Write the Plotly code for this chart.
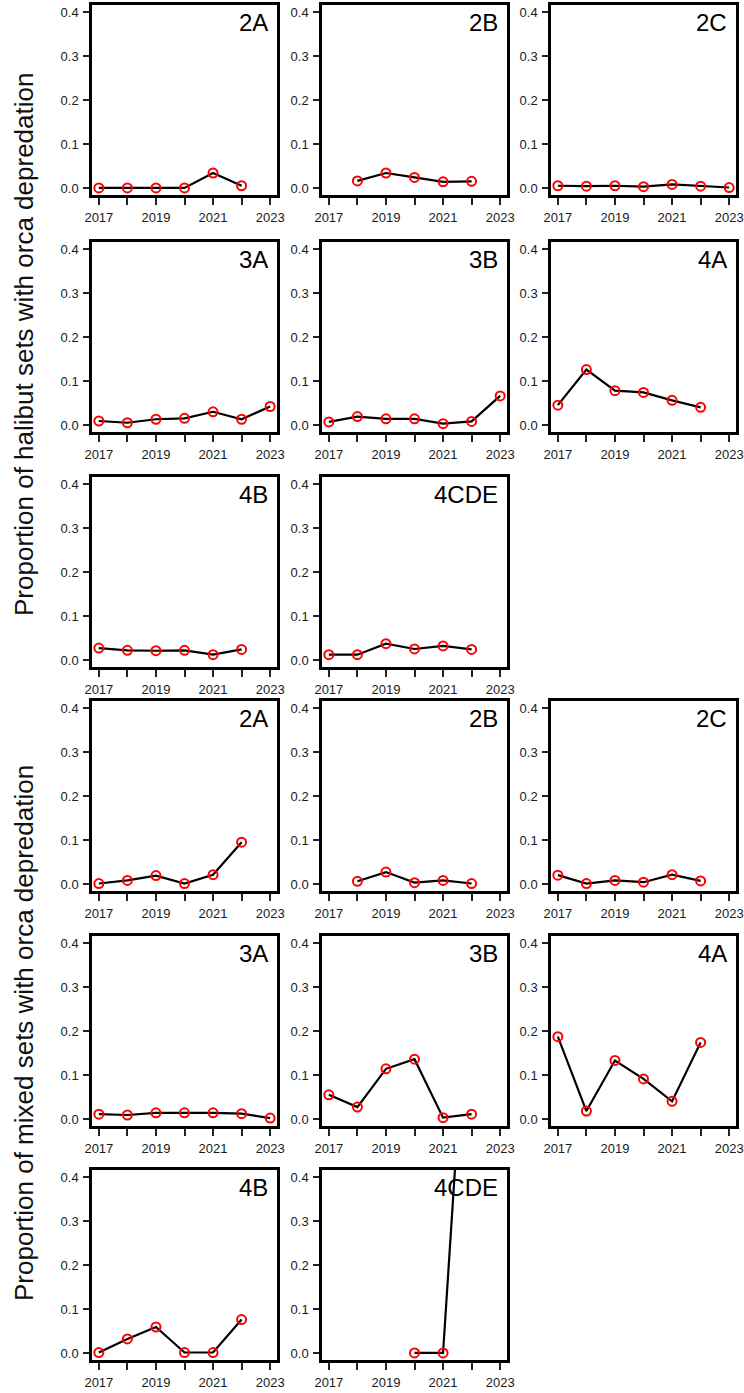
import plotly.graph_objects as go

# ---------------- data ----------------
years = [2017, 2018, 2019, 2020, 2021, 2022, 2023]
areas = ["2A", "2B", "2C", "3A", "3B", "4A", "4B", "4CDE"]
x_tick_vals = [2017, 2018, 2019, 2020, 2021, 2022, 2023]
x_tick_text = ["2017", "", "2019", "", "2021", "", "2023"]
y_tick_vals = [0.0, 0.1, 0.2, 0.3, 0.4]
y_tick_text = ["0.0", "0.1", "0.2", "0.3", "0.4"]

# halibut sets
halibut_2A = [0.0, 0.0, 0.0, 0.0, 0.034, 0.005, None]
halibut_2B = [None, 0.016, 0.034, 0.024, 0.014, 0.015, None]
halibut_2C = [0.005, 0.004, 0.005, 0.003, 0.008, 0.004, 0.001]
halibut_3A = [0.009, 0.005, 0.013, 0.015, 0.030, 0.013, 0.042]
halibut_3B = [0.007, 0.019, 0.014, 0.014, 0.003, 0.008, 0.066]
halibut_4A = [0.045, 0.126, 0.078, 0.074, 0.056, 0.040, None]
halibut_4B = [0.027, 0.022, 0.021, 0.022, 0.012, 0.024, None]
halibut_4CDE = [0.012, 0.012, 0.037, 0.025, 0.032, 0.024, None]

# mixed sets
mixed_2A = [0.001, 0.008, 0.019, 0.001, 0.021, 0.095, None]
mixed_2B = [None, 0.006, 0.027, 0.003, 0.008, 0.001, None]
mixed_2C = [0.020, 0.001, 0.008, 0.004, 0.021, 0.007, None]
mixed_3A = [0.011, 0.009, 0.014, 0.014, 0.014, 0.012, 0.002]
mixed_3B = [0.055, 0.027, 0.114, 0.136, 0.003, 0.011, None]
mixed_4A = [0.187, 0.018, 0.133, 0.091, 0.040, 0.174, None]
mixed_4B = [0.001, 0.032, 0.059, 0.001, 0.001, 0.076, None]
mixed_4CDE = [None, None, None, 0.0, 0.0, 1.0, None]

halibut = [halibut_2A, halibut_2B, halibut_2C, halibut_3A,
           halibut_3B, halibut_4A, halibut_4B, halibut_4CDE]
mixed = [mixed_2A, mixed_2B, mixed_2C, mixed_3A,
         mixed_3B, mixed_4A, mixed_4B, mixed_4CDE]
groups = [halibut, mixed]
group_titles = ["Proportion of halibut sets with orca depredation",
                "Proportion of mixed sets with orca depredation"]

# ---------------- layout geometry (pixels) ----------------
W, H = 744, 1393
col_left = [92, 322, 551]
box_w = 185
row_top = [5, 242, 477, 701, 936, 1170]
box_h = 190
title_centers = [345, 1033]
title_x = 24

fig = go.Figure()
layout = dict(
    template="none",
    width=W, height=H,
    margin=dict(l=0, r=0, t=0, b=0, autoexpand=False),
    paper_bgcolor="white", plot_bgcolor="white",
    showlegend=False,
    font=dict(family="Liberation Sans, Arial, sans-serif", color="#111"),
)
annotations = []
tick_font = dict(family="Liberation Sans, Arial, sans-serif", size=13,
                 color="#1a1a1a")

axis_n = 0
for g, series_list in enumerate(groups):
    for p, vals in enumerate(series_list):
        axis_n += 1
        row = g * 3 + p // 3
        col = p % 3
        xname = "x" if axis_n == 1 else f"x{axis_n}"
        yname = "y" if axis_n == 1 else f"y{axis_n}"
        xa = "xaxis" if axis_n == 1 else f"xaxis{axis_n}"
        ya = "yaxis" if axis_n == 1 else f"yaxis{axis_n}"
        x0 = col_left[col] / W
        x1 = (col_left[col] + box_w) / W
        y1 = 1 - row_top[row] / H
        y0 = 1 - (row_top[row] + box_h) / H

        fig.add_trace(go.Scatter(
            x=years, y=vals, mode="lines",
            line=dict(color="black", width=2.2),
            connectgaps=False, xaxis=xname, yaxis=yname,
            hoverinfo="skip"))
        fig.add_trace(go.Scatter(
            x=years, y=vals, mode="markers",
            marker=dict(symbol="circle-open", size=9, color="#ff0000",
                        line=dict(width=2, color="#ff0000")),
            xaxis=xname, yaxis=yname, cliponaxis=True))

        layout[xa] = dict(
            domain=[x0, x1], anchor=yname, range=[2016.76, 2023.24],
            automargin=False, ticklabeloverflow="allow",
            tickmode="array", tickvals=x_tick_vals, ticktext=x_tick_text,
            ticks="outside", ticklen=7, tickwidth=1.5, tickcolor="#222",
            ticklabelstandoff=2,
            showline=True, linecolor="black", linewidth=2.5, mirror=True,
            showgrid=False, zeroline=False, tickfont=tick_font)
        layout[ya] = dict(
            domain=[y0, y1], anchor=xname, range=[-0.016, 0.416],
            automargin=False, ticklabeloverflow="allow",
            tickmode="array", tickvals=y_tick_vals, ticktext=y_tick_text,
            ticks="outside", ticklen=6, tickwidth=1.5, tickcolor="#222",
            ticklabelstandoff=2,
            showline=True, linecolor="black", linewidth=2.5, mirror=True,
            showgrid=False, zeroline=False, tickfont=tick_font)

        annotations.append(dict(
            x=(col_left[col] + box_w - 7) / W,
            y=1 - (row_top[row] + 2) / H,
            xref="paper", yref="paper", xanchor="right", yanchor="top",
            text=areas[p], showarrow=False,
            font=dict(size=24, color="black")))

    annotations.append(dict(
        x=title_x / W, y=1 - title_centers[g] / H,
        xref="paper", yref="paper", xanchor="center", yanchor="middle",
        text=group_titles[g], textangle=-90, showarrow=False,
        font=dict(size=26, color="#111")))

layout["annotations"] = annotations
fig.update_layout(**layout)
fig.write_html("out.html")
